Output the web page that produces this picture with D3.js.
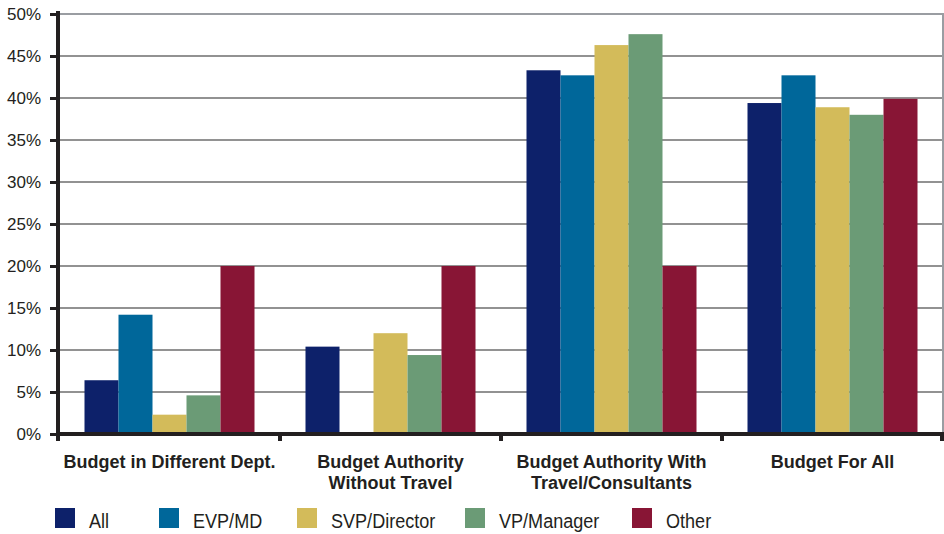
<!DOCTYPE html>
<html>
<head>
<meta charset="utf-8">
<script src="https://cdn.jsdelivr.net/npm/d3@7"></script>
<style>
  html, body { margin: 0; padding: 0; background: #fff; }
  svg { display: block; }
</style>
</head>
<body>
<svg id="chart" width="944" height="534"></svg>
<script>
// Budget responsibility by title level
const categories = [
  ["Budget in Different Dept."],
  ["Budget Authority", "Without Travel"],
  ["Budget Authority With", "Travel/Consultants"],
  ["Budget For All"]
];
const seriesNames = ["All", "EVP/MD", "SVP/Director", "VP/Manager", "Other"];
const seriesColors = ["#0d216a", "#00679a", "#d3bb5a", "#6b9b76", "#881535"];

// values per series, one per category (fractions)
const allValues      = [0.064, 0.104, 0.433, 0.394];
const evpValues      = [0.142, 0.000, 0.427, 0.427];
const svpValues      = [0.023, 0.120, 0.463, 0.389];
const vpValues       = [0.046, 0.094, 0.476, 0.380];
const otherValues    = [0.200, 0.200, 0.200, 0.399];
const seriesValues = [allValues, evpValues, svpValues, vpValues, otherValues];

const yTicks = [0, 0.05, 0.10, 0.15, 0.20, 0.25, 0.30, 0.35, 0.40, 0.45, 0.50];

(function draw() {
  const svg = d3.select("#chart");
  const plotLeft = 58, plotRight = 943, plotTop = 14, plotBottom = 434;
  const axisColor = "#231f20";
  const font = "'Liberation Sans', Arial, sans-serif";

  const catKeys = categories.map((c, i) => i);
  const x0 = d3.scaleBand().domain(catKeys).range([plotLeft + 1, plotRight]).paddingInner(0).paddingOuter(0);
  const x1 = d3.scaleBand().domain(d3.range(seriesNames.length))
    .range([0, x0.bandwidth()]).paddingInner(0).paddingOuter(0.75);
  const y = d3.scaleLinear().domain([0, 0.5]).range([plotBottom, plotTop]);

  // gridlines
  svg.append("g")
    .selectAll("line")
    .data(yTicks.filter(t => t > 0))
    .join("line")
    .attr("x1", plotLeft).attr("x2", plotRight + 1)
    .attr("y1", d => y(d)).attr("y2", d => y(d))
    .attr("stroke", d => d === 0.5 ? "#9a9da2" : "#6e6e6e")
    .attr("stroke-width", d => d === 0.5 ? 2 : 1.4);

  // right border of the plot
  svg.append("line")
    .attr("x1", plotRight).attr("x2", plotRight)
    .attr("y1", plotTop - 1).attr("y2", plotBottom)
    .attr("stroke", "#9a9da2").attr("stroke-width", 2);

  // bars
  const rows = [];
  seriesValues.forEach((vals, s) => vals.forEach((v, c) => rows.push({ s, c, v })));
  svg.append("g")
    .selectAll("rect")
    .data(rows)
    .join("rect")
    .attr("x", d => x0(d.c) + x1(d.s))
    .attr("width", x1.bandwidth())
    .attr("y", d => y(d.v))
    .attr("height", d => y(0) - y(d.v))
    .attr("fill", d => seriesColors[d.s]);

  // y axis
  const yAxis = d3.axisLeft(y)
    .tickValues(yTicks)
    .tickFormat(d => Math.round(d * 100) + "%")
    .tickSize(8)
    .tickPadding(9);
  const yg = svg.append("g").attr("transform", `translate(${plotLeft},0)`).call(yAxis);
  yg.select(".domain").remove();
  yg.selectAll(".tick line").attr("stroke", axisColor).attr("stroke-width", 3);
  yg.selectAll(".tick text")
    .attr("font-family", font)
    .attr("font-size", 17)
    .attr("fill", "#231f20");
  svg.append("line")
    .attr("x1", plotLeft).attr("x2", plotLeft)
    .attr("y1", plotTop - 3).attr("y2", plotBottom + 7)
    .attr("stroke", axisColor).attr("stroke-width", 4);

  // x axis
  svg.append("line")
    .attr("x1", plotLeft).attr("x2", plotRight + 1)
    .attr("y1", plotBottom).attr("y2", plotBottom)
    .attr("stroke", axisColor).attr("stroke-width", 4);
  svg.append("g")
    .selectAll("line")
    .data(catKeys.map(c => x0(c) + x0.bandwidth()))
    .join("line")
    .attr("x1", d => Math.min(d, plotRight - 1)).attr("x2", d => Math.min(d, plotRight - 1))
    .attr("y1", plotBottom).attr("y2", plotBottom + 7)
    .attr("stroke", axisColor).attr("stroke-width", 4);

  // category labels
  const labels = svg.append("g")
    .selectAll("text")
    .data(categories)
    .join("text")
    .attr("text-anchor", "middle")
    .attr("font-family", font)
    .attr("font-weight", "bold")
    .attr("font-size", 18)
    .attr("fill", "#231f20")
    .attr("transform", (d, i) => `translate(${x0(i) + x0.bandwidth() / 2},468)`);
  labels.selectAll("tspan")
    .data(d => d)
    .join("tspan")
    .attr("x", 0)
    .attr("y", (d, i) => i * 21)
    .text(d => d);

  // legend (condensed lettering via horizontal scale)
  const legendX = [55, 159, 297, 465, 632];
  const lg = svg.append("g")
    .selectAll("g")
    .data(seriesNames)
    .join("g")
    .attr("transform", (d, i) => `translate(${legendX[i]},508)`);
  lg.append("rect")
    .attr("width", 20).attr("height", 20)
    .attr("fill", (d, i) => seriesColors[i]);
  lg.append("text")
    .attr("transform", "translate(34,20) scale(0.86,1)")
    .attr("font-family", font)
    .attr("font-size", 21)
    .attr("fill", "#231f20")
    .text(d => d);
})();
</script>
</body>
</html>
